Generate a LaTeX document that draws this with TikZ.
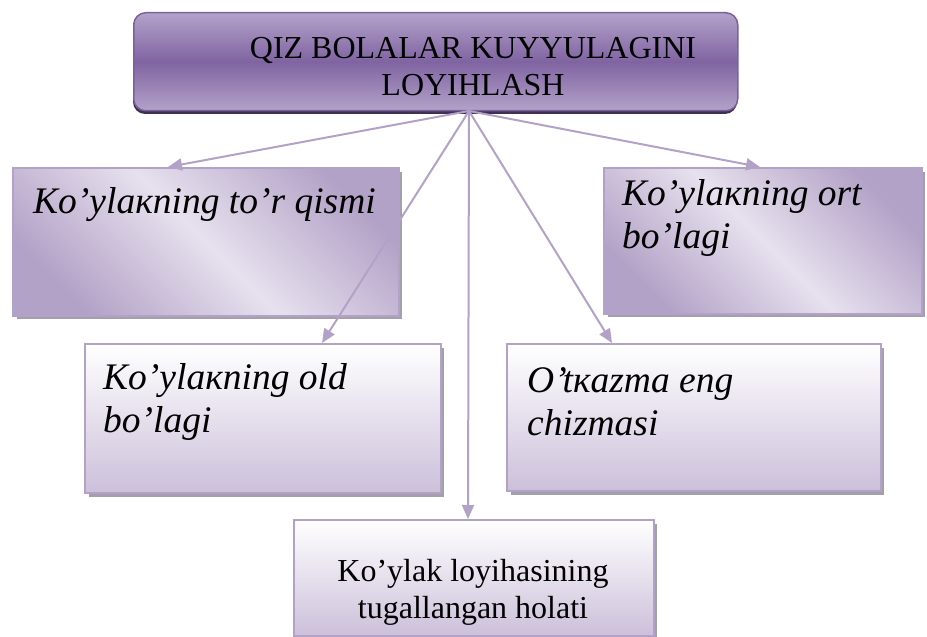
\documentclass[tikz,border=0pt]{standalone}
\usepackage{fontspec}
\setmainfont{Liberation Serif}
\usetikzlibrary{arrows.meta}
\definecolor{boxline}{HTML}{B3A2C7}
\definecolor{darkband}{HTML}{B3A2C7}
\definecolor{lightband}{HTML}{E7E1EE}
\definecolor{lowlav}{HTML}{CCC0DA}
\definecolor{shadowgray}{HTML}{A39FAC}
\definecolor{toplight}{HTML}{B3A2C9}
\definecolor{topmid}{HTML}{8064A2}
\definecolor{topline}{HTML}{7A619C}
\definecolor{topdark}{HTML}{3F3151}
\definecolor{arrowcol}{HTML}{B3A2C7}
\begin{document}
\begin{tikzpicture}[x=1bp,y=-1bp,
  box/.style={draw=boxline, line width=1.8bp, inner sep=0pt, anchor=north west},
  diagbox/.style={box, shading=axis, top color=darkband, bottom color=darkband, middle color=lightband, shading angle=-45},
  vertbox/.style={box, top color=white, bottom color=lowlav},
  shadowbox/.style={fill=shadowgray, draw=none},
  arr/.style={draw=arrowcol, line width=2bp, -{Triangle[length=14bp,width=12bp]}},
  itxt/.style={anchor=north west, font=\fontsize{37.5bp}{43bp}\selectfont\itshape, align=left, inner sep=0pt},
  rtxt/.style={anchor=north, font=\fontsize{32bp}{37bp}\selectfont, align=center, inner sep=0pt},
]
\useasboundingbox (0,0) rectangle (927,637);
% top box
\path[fill=topdark, rounded corners=12bp] (133,15) rectangle (737,114);
\node[box, draw=topline, line width=1.5bp, rounded corners=12bp, minimum width=604bp, minimum height=98bp,
      top color=toplight, bottom color=toplight, middle color=topmid] (top) at (133,12) {};
\node[rtxt] (ttop) at (473,37) {QIZ BOLALAR KUYYULAGINI\\LOYIHLASH};
% box 1
\path[shadowbox] (17,172) rectangle (402,319);
\node[diagbox, minimum width=386bp, minimum height=148bp] (b1) at (12,167) {};
\node[itxt] (t1) at (33,187) {Ko’ylaкning to’r qismi};
% box 2
\path[shadowbox] (608,172) rectangle (925,317);
\node[diagbox, minimum width=318bp, minimum height=146bp] (b2) at (603,167) {};
\node[itxt] (t2) at (622,179) {Ko’ylaкning ort\\bo’lagi};
% box 3
\path[shadowbox] (89,348) rectangle (444,497);
\node[vertbox, minimum width=356bp, minimum height=149bp] (b3) at (84,343) {};
\node[itxt] (t3) at (103,363) {Ko’ylaкning old\\bo’lagi};
% box 4
\path[shadowbox] (511,348) rectangle (884,495);
\node[vertbox, minimum width=374bp, minimum height=147bp] (b4) at (506,343) {};
\node[itxt] (t4) at (527,367) {O’tкazma eng\\chizmasi};
% box 5
\path[shadowbox] (298,524) rectangle (657,640);
\node[vertbox, minimum width=360bp, minimum height=116bp] (b5) at (293,519) {};
\node[rtxt] (t5) at (473,559) {Ko’ylak loyihasining\\tugallangan holati};
% arrows
\coordinate (hub) at (469,111);
\draw[arr] (hub) -- ([xshift=156bp]b1.north west);
\draw[arr] (hub) -- ([xshift=157bp]b2.north west);
\draw[arr] (hub) -- ([xshift=238bp]b3.north west);
\draw[arr] (hub) -- ([xshift=106bp]b4.north west);
\draw[arr] (hub) -- ([xshift=175bp]b5.north west);
\end{tikzpicture}
\end{document}
